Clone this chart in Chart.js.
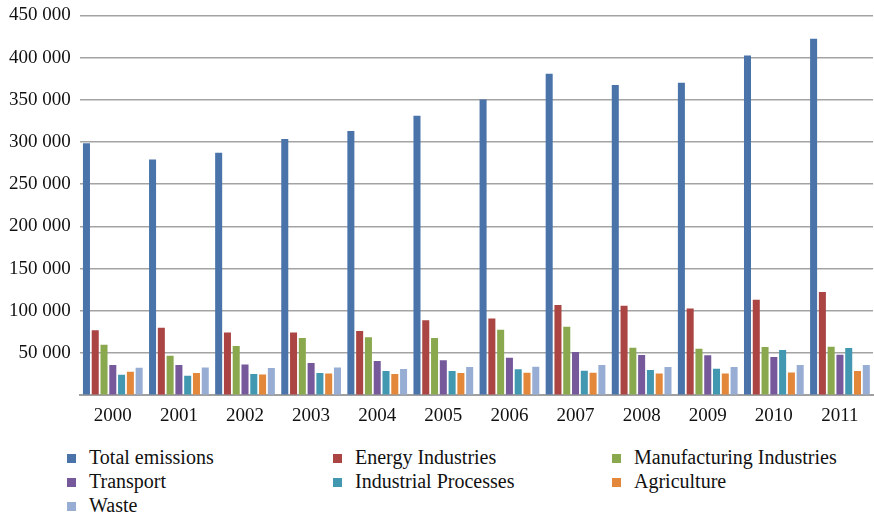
<!DOCTYPE html>
<html>
<head>
<meta charset="utf-8">
<script src="https://cdn.jsdelivr.net/npm/chart.js@4/dist/chart.umd.min.js"></script>
<style>
  html, body { margin: 0; padding: 0; background: #fff; overflow: hidden; }
  #wrap { position: relative; width: 874px; height: 517px; overflow: hidden; }
  #box { position: absolute; left: 0; top: -5px; width: 874px; height: 433px; }
  #legend { position: absolute; left: 0; top: 445px; width: 874px; height: 72px;
    font-family: 'Liberation Serif', 'Times New Roman', serif; font-size: 20px; color: #111; }
  .item { position: absolute; white-space: nowrap; line-height: 24px; }
  .sw { display: inline-block; width: 9px; height: 9px; margin-right: 13px; vertical-align: 1px; }
</style>
</head>
<body>
<div id="wrap">
  <div id="box"><canvas id="c"></canvas></div>
  <div id="legend"></div>
</div>
<script>
const years = ['2000','2001','2002','2003','2004','2005','2006','2007','2008','2009','2010','2011'];
const totalEmissions = [298500, 279400, 287300, 303600, 313000, 331000, 350500, 381000, 367500, 370200, 402400, 422200];
const energyIndustries = [77000, 79800, 74200, 74200, 76200, 88900, 90900, 106800, 106000, 102800, 113100, 122200];
const manufacturingIndustries = [59900, 46800, 58300, 67900, 68700, 67900, 77400, 81000, 56300, 55100, 57100, 57500];
const transport = [35700, 35700, 36500, 38100, 40500, 41300, 44400, 51200, 47600, 47200, 45200, 48000];
const industrialProcesses = [24200, 23000, 25000, 26200, 28600, 28600, 30600, 28900, 29800, 31300, 53600, 56000];
const agriculture = [27800, 26200, 24600, 25800, 25000, 26200, 26600, 26600, 25800, 25800, 27000, 28600];
const waste = [32500, 32900, 32100, 32900, 31000, 33300, 33700, 35700, 33300, 33300, 35700, 35700];
const seriesNames = ['Total emissions','Energy Industries','Manufacturing Industries','Transport','Industrial Processes','Agriculture','Waste'];
const seriesColors = ['#4a73aa','#aa4543','#8aa94f','#76599b','#4298b0','#e3883b','#97add4'];
const seriesData = [totalEmissions, energyIndustries, manufacturingIndustries, transport, industrialProcesses, agriculture, waste];

const datasets = seriesNames.map((n, i) => ({
  label: n,
  data: seriesData[i],
  backgroundColor: seriesColors[i],
  borderWidth: 0,
  categoryPercentage: 0.93,
  barPercentage: 0.8
}));

Chart.defaults.font.family = "'Liberation Serif', 'Times New Roman', serif";
const tickFont = { family: "'Liberation Serif', 'Times New Roman', serif", size: 19 };

new Chart(document.getElementById('c'), {
  type: 'bar',
  data: { labels: years, datasets },
  options: {
    responsive: true,
    maintainAspectRatio: false,
    animation: false,
    layout: { padding: { top: 1, right: 1, left: 0, bottom: 0 } },
    plugins: { legend: { display: false }, tooltip: { enabled: false } },
    scales: {
      x: {
        grid: { display: false },
        border: { display: true, color: '#a0a0a0', width: 2 },
        ticks: { color: '#111', font: tickFont, padding: 1 }
      },
      y: {
        min: 0, max: 450000,
        grid: { color: '#a3a3a3', lineWidth: 1.5, drawTicks: false },
        border: { display: false },
        ticks: {
          stepSize: 50000, color: '#111', font: tickFont, padding: 9,
          callback: v => v === 0 ? '' : String(v).replace(/\B(?=(\d{3})+(?!\d))/g, ' ')
        }
      }
    }
  }
});

const leg = document.getElementById('legend');
const cols = [67, 333, 612];
seriesNames.forEach((n, i) => {
  const d = document.createElement('div');
  d.className = 'item';
  d.style.left = cols[i % 3] + 'px';
  d.style.top = (Math.floor(i / 3) * 24) + 'px';
  d.innerHTML = '<span class="sw" style="background:' + seriesColors[i] + '"></span>' + n;
  leg.appendChild(d);
});
</script>
</body>
</html>
